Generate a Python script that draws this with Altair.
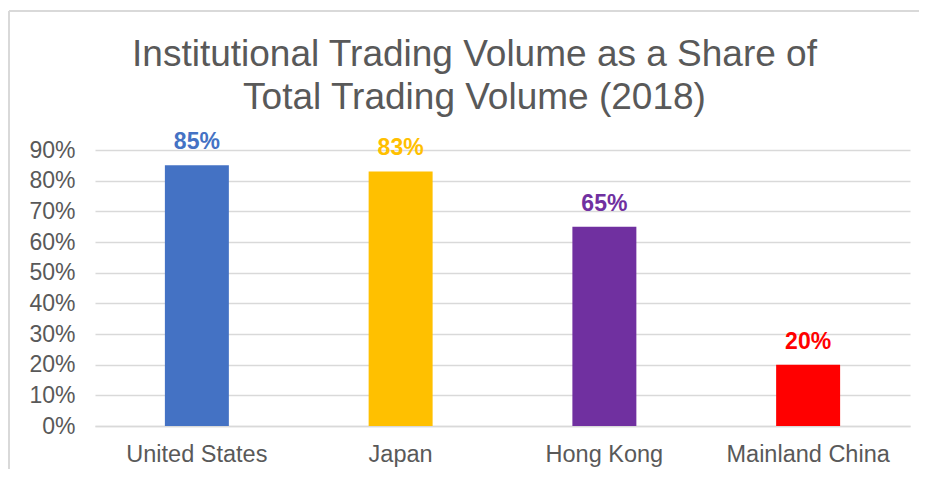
import altair as alt
import pandas as pd

regions = ["United States", "Japan", "Hong Kong", "Mainland China"]
shares = [0.85, 0.83, 0.65, 0.20]
colors = ["#4472C4", "#FFC000", "#7030A0", "#FF0000"]
y_ticks = [0, 0.1, 0.2, 0.3, 0.4, 0.5, 0.6, 0.7, 0.8, 0.9]

df = pd.DataFrame({"region": regions, "share": shares, "color": colors})

x_enc = alt.X("region:N", sort=regions, title=None,
              axis=alt.Axis(labelAngle=0, labelFontSize=23.5, labelColor="#595959",
                            labelFont="Liberation Sans", labelPadding=16,
                            ticks=False, domainColor="#D9D9D9", domainWidth=1.5),
              scale=alt.Scale(paddingInner=0.686, paddingOuter=0.343))
y_enc = alt.Y("share:Q", title=None,
              scale=alt.Scale(domain=[0, 0.9], nice=False),
              axis=alt.Axis(format=".0%", values=y_ticks, labelFontSize=23,
                            labelColor="#595959", labelFont="Liberation Sans",
                            labelPadding=20, ticks=False, domain=False,
                            labelOverlap=False,
                            gridColor="#D9D9D9", gridWidth=1.5))

bars = alt.Chart(df).mark_bar().encode(
    x=x_enc, y=y_enc, color=alt.Color("color:N", scale=None)
)
labels = alt.Chart(df).mark_text(
    fontSize=23, fontWeight="bold", font="Liberation Sans", baseline="alphabetic", dy=-16
).encode(
    x=x_enc, y=y_enc,
    text=alt.Text("share:Q", format=".0%"),
    color=alt.Color("color:N", scale=None),
)
frame_top = alt.Chart(df).mark_rule(color="#D9D9D9", strokeWidth=1.5).encode(
    x=alt.value(-86), x2=alt.value(840), y=alt.value(-139)
)
frame_left = alt.Chart(df).mark_rule(color="#D9D9D9", strokeWidth=1.5).encode(
    x=alt.value(-86), y=alt.value(-139), y2=alt.value(330)
)

chart = alt.layer(frame_top, frame_left, bars, labels).properties(
    width=815, height=276,
    autosize=alt.AutoSizeParams(type="none"),
    padding={"left": 87, "top": 142, "right": 9, "bottom": 43},
    title=alt.TitleParams(
        text=["Institutional Trading Volume as a Share of", "Total Trading Volume (2018)"],
        fontSize=37, font="Liberation Sans", fontWeight="normal", color="#595959",
        anchor="middle", baseline="alphabetic", lineHeight=43, dx=-28, dy=146, offset=10,
    ),
).configure_view(stroke=None)

chart.save("out.html", embed_options={"renderer": "svg", "actions": False})
